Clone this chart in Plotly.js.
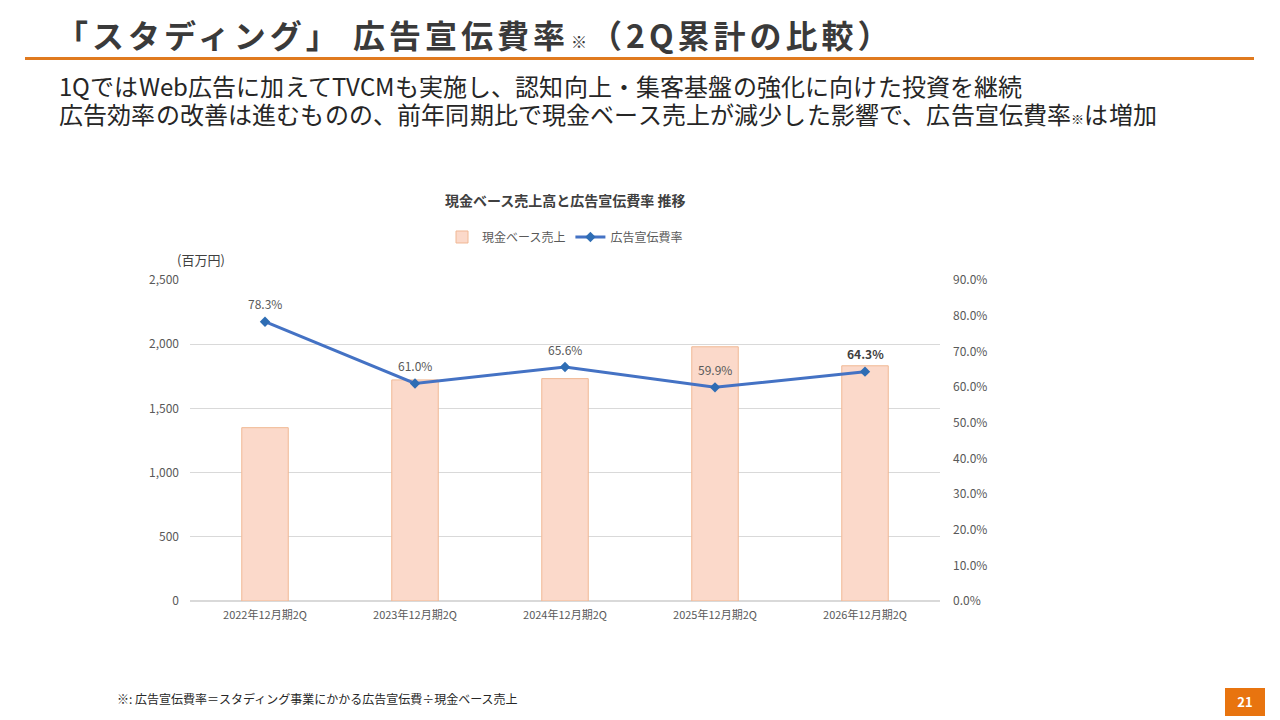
<!DOCTYPE html>
<html lang="ja">
<head>
<meta charset="utf-8">
<script src="https://cdn.plot.ly/plotly-3.0.1.min.js"></script>
<style>
  @font-face {
    font-family: 'LeadJP';
    src: local('Noto Sans CJK JP'), local('Noto Sans CJK JP Regular'), local('NotoSansCJKjp-Regular');
    ascent-override: 88%;
    descent-override: 12%;
    line-gap-override: 0%;
  }
  html, body { margin: 0; padding: 0; background: #ffffff; }
  body { width: 1280px; height: 720px; position: relative; overflow: hidden;
         font-family: "Noto Sans CJK JP", "Noto Sans", sans-serif; color: #333333; }
  .page-title { position: absolute; left: 56px; top: 14px; font-size: 32px; font-weight: 700;
                letter-spacing: 4px; color: #3a3a3a; white-space: nowrap; line-height: 40px; }
  .page-title small { font-size: 16px; letter-spacing: 0; margin: 0 3px 0 2px; }
  .rule { position: absolute; left: 25px; top: 57px; width: 1229px; height: 3px; background: #E07A1F; }
  .lead { position: absolute; left: 59px; font-family: 'LeadJP', "Noto Sans CJK JP", sans-serif;
          font-size: 24px; line-height: 26px; color: #262626; white-space: nowrap; letter-spacing: 0.15px; }
  .lead small { font-size: 13px; }
  .note { position: absolute; left: 117px; top: 690px; font-size: 12px; color: #262626; white-space: nowrap; }
  .page-no { position: absolute; left: 1225px; top: 688px; width: 40px; height: 28px; background: #E8740F;
             color: #ffffff; font-weight: 700; font-size: 13px; line-height: 28px; text-align: center; }
  #chart { position: absolute; left: 0; top: 0; width: 1280px; height: 720px; }
</style>
</head>
<body>
<div class="page-title">「スタディング」 広告宣伝費率<small>※</small>（2Q累計の比較）</div>
<div class="rule"></div>
<div class="lead" style="top: 74px;">1QではWeb広告に加えてTVCMも実施し、認知向上・集客基盤の強化に向けた投資を継続</div>
<div class="lead" style="top: 102px;">広告効率の改善は進むものの、前年同期比で現金ベース売上が減少した影響で、広告宣伝費率<small>※</small>は増加</div>
<div class="note">※: 広告宣伝費率＝スタディング事業にかかる広告宣伝費÷現金ベース売上</div>
<div class="page-no">21</div>
<div id="chart"></div>
<script>
(function () {
  'use strict';

  // data
  var periods = ['2022年12月期2Q', '2023年12月期2Q', '2024年12月期2Q', '2025年12月期2Q', '2026年12月期2Q'];
  var cashSales = [1350, 1722, 1732, 1980, 1832];
  var adRate = [78.3, 61.0, 65.6, 59.9, 64.3];
  var boldIndex = 4;

  var fontFamily = '"Noto Sans CJK JP", "Noto Sans", sans-serif';
  var tickColor = '#595959';
  var gridColor = '#D9D9D9';

  var labels = adRate.map(function (v, i) {
    var s = v.toFixed(1) + '%';
    return {
      x: periods[i],
      y: v,
      xref: 'x',
      yref: 'y2',
      text: i === boldIndex ? '<b>' + s + '</b>' : s,
      showarrow: false,
      yshift: 18,
      font: { family: fontFamily, size: 12, color: i === boldIndex ? '#404040' : '#595959' }
    };
  });

  var traces = [
    {
      x: periods,
      y: cashSales,
      name: '現金ベース売上',
      type: 'bar',
      width: 0.31,
      marker: { color: '#FBD9CA', line: { color: '#F0B894', width: 1 } },
      hoverinfo: 'x+y'
    },
    {
      x: periods,
      y: adRate,
      name: '広告宣伝費率',
      type: 'scatter',
      mode: 'lines+markers',
      yaxis: 'y2',
      line: { color: '#4472C4', width: 3 },
      marker: { symbol: 'diamond', size: 8, color: '#2E6DB4' },
      hovertemplate: '%{x}<br>%{y:.1f}%<extra></extra>'
    }
  ];

  var layout = {
    width: 1280,
    height: 720,
    margin: { l: 190, r: 340, t: 280, b: 119, pad: 0 },
    paper_bgcolor: 'rgba(0,0,0,0)',
    plot_bgcolor: 'rgba(0,0,0,0)',
    font: { family: fontFamily, size: 12, color: tickColor },
    bargap: 0.69,
    xaxis: {
      showgrid: false,
      zeroline: false,
      showline: false,
      ticks: '',
      tickfont: { family: fontFamily, size: 11, color: tickColor },
      ticklabelstandoff: 6
    },
    yaxis: {
      range: [0, 2500],
      dtick: 500,
      tickformat: ',',
      showgrid: true,
      gridcolor: gridColor,
      gridwidth: 1,
      zeroline: true,
      zerolinecolor: gridColor,
      zerolinewidth: 1.5,
      showline: false,
      ticks: '',
      ticklabelstandoff: 10,
      tickfont: { family: fontFamily, size: 12, color: tickColor }
    },
    yaxis2: {
      overlaying: 'y',
      side: 'right',
      range: [0, 90],
      dtick: 10,
      tickformat: '.1f',
      ticksuffix: '%',
      showgrid: false,
      zeroline: false,
      showline: false,
      ticks: '',
      ticklabelstandoff: 12,
      tickfont: { family: fontFamily, size: 12, color: tickColor }
    },
    showlegend: true,
    legend: {
      orientation: 'h',
      x: 0.5,
      xanchor: 'center',
      y: 1.134,
      yanchor: 'middle',
      font: { family: fontFamily, size: 12, color: tickColor },
      itemwidth: 30,
      tracegroupgap: 0
    },
    annotations: labels.concat([
      {
        xref: 'paper', yref: 'paper', x: 0.5, y: 1.249, xanchor: 'center', yanchor: 'middle',
        text: '<b>現金ベース売上高と広告宣伝費率 推移</b>', showarrow: false,
        font: { family: fontFamily, size: 14, color: '#404040' }
      },
      {
        xref: 'paper', yref: 'paper', x: -0.02, y: 1.065, xanchor: 'left', yanchor: 'middle',
        text: '(百万円)', showarrow: false,
        font: { family: fontFamily, size: 13, color: '#404040' }
      }
    ])
  };

  Plotly.newPlot('chart', traces, layout, { displayModeBar: false, staticPlot: true });
})();
</script>
</body>
</html>
